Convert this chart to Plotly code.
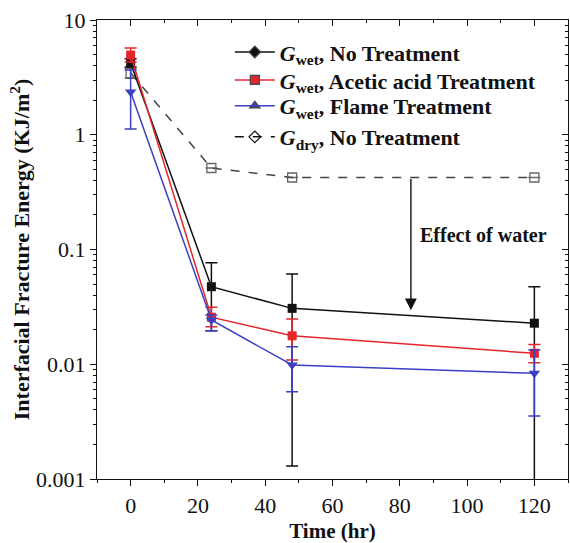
import math
import plotly.graph_objects as go

# Time points (hr)
time_hr = [0, 24, 48, 120]

# Wet interfacial fracture energy (KJ/m^2) with error bar limits
wet_none = [4.2, 0.0474, 0.0307, 0.0228]
wet_none_hi = [4.6, 0.0767, 0.0612, 0.0474]
wet_none_lo = [3.9, 0.0196, 0.0013, 0.0005]

wet_acetic = [4.95, 0.0257, 0.0177, 0.01246]
wet_acetic_hi = [5.7, 0.0314, 0.0248, 0.0149]
wet_acetic_lo = [4.3, 0.0212, 0.0109, 0.0103]

wet_flame = [2.36, 0.0243, 0.00985, 0.00834]
wet_flame_hi = [3.66, 0.0269, 0.01422, 0.0133]
wet_flame_lo = [1.12, 0.0196, 0.00577, 0.00354]

# Dry interfacial fracture energy, no treatment
dry_none = [3.45, 0.513, 0.424, 0.424]
dry_none_hi = [3.8, 0.513, 0.424, 0.424]
dry_none_lo = [3.1, 0.513, 0.424, 0.424]

legend_names = [
    "<i>G</i><sub>wet</sub>, No Treatment",
    "<i>G</i><sub>wet</sub>, Acetic acid Treatment",
    "<i>G</i><sub>wet</sub>, Flame Treatment",
    "<i>G</i><sub>dry</sub>, No Treatment",
]

# "Effect of water" arrow: from the dry level down to the wet level
arrow_time = 83.3
arrow_from = 0.424
arrow_to = 0.0295
label_pos = (85.5, 0.134)

BLACK = "#111111"
RED = "#e3262a"
BLUE = "#3b3fc2"
GREY = "#444444"
FONT = "Liberation Serif"


def err(vals, hi, lo):
    return dict(
        type="data", symmetric=False,
        array=[h - v for h, v in zip(hi, vals)],
        arrayminus=[v - l for v, l in zip(vals, lo)],
        thickness=1.5, width=6,
    )


fig = go.Figure()

# dry series
fig.add_trace(go.Scatter(
    x=time_hr, y=dry_none, mode="lines+markers", showlegend=False,
    line=dict(color=GREY, width=1.5, dash="dash"),
    marker=dict(symbol="square-open", size=9, color="#666666", line=dict(width=1.3)),
    error_y=dict(err(dry_none, dry_none_hi, dry_none_lo), color="#666666"),
))

# wet series
for vals, hi, lo, col, sym, sz in [
    (wet_none, wet_none_hi, wet_none_lo, BLACK, "square", 9),
    (wet_acetic, wet_acetic_hi, wet_acetic_lo, RED, "square", 9),
    (wet_flame, wet_flame_hi, wet_flame_lo, BLUE, "triangle-down", 10),
]:
    fig.add_trace(go.Scatter(
        x=time_hr, y=vals, mode="lines+markers", showlegend=False,
        line=dict(color=col, width=1.5),
        marker=dict(symbol=sym, size=sz, color=col),
        error_y=dict(err(vals, hi, lo), color=col),
    ))

# legend entries, one legend box per entry so each row can be placed
legend_ids = ["legend", "legend2", "legend3", "legend4"]
legend_rows = [0.930, 0.869, 0.813, 0.745]
for name, lid, col, sym, dash in [
    (legend_names[0], legend_ids[0], BLACK, "diamond", "solid"),
    (legend_names[1], legend_ids[1], RED, "square", "solid"),
    (legend_names[2], legend_ids[2], BLUE, "triangle-up", "solid"),
    (legend_names[3], legend_ids[3], BLACK, "diamond-open", "dash"),
]:
    fig.add_trace(go.Scatter(
        x=[None], y=[None], mode="lines+markers", name=name, legend=lid,
        line=dict(color=col, width=1.5, dash=dash),
        marker=dict(symbol=sym, size=9, color=col, line=dict(width=1.2)),
    ))

# mirror axes carrying inside ticks on top and right
fig.add_trace(go.Scatter(x=[None], y=[None], xaxis="x2", yaxis="y2",
                         showlegend=False, hoverinfo="skip"))

# annotations on a log axis take log10 coordinates
fig.add_annotation(
    x=arrow_time, y=math.log10(arrow_to),
    ax=arrow_time, ay=math.log10(arrow_from),
    xref="x", yref="y", axref="x", ayref="y", text="", showarrow=True,
    arrowhead=2, arrowsize=1.7, arrowwidth=1.4, arrowcolor=BLACK,
)
fig.add_annotation(
    x=label_pos[0], y=math.log10(label_pos[1]), xref="x", yref="y",
    text="<b>Effect of water</b>", showarrow=False,
    xanchor="left", yanchor="middle",
    font=dict(family=FONT, size=20, color=BLACK),
)

axis_common = dict(showgrid=False, zeroline=False, showline=True,
                   linecolor=BLACK, linewidth=1.2, tickcolor=BLACK,
                   automargin=False)
minor_y = [m * 10 ** e for e in range(-3, 1) for m in range(2, 10)]

legend_style = dict(
    x=0.282, xanchor="left", yanchor="middle",
    bgcolor="rgba(0,0,0,0)", borderwidth=0,
    font=dict(family=FONT, size=22, color=BLACK, weight="bold"),
    itemwidth=40,
)

fig.update_layout(
    width=570, height=543,
    margin=dict(l=97, r=2, t=20, b=64),
    paper_bgcolor="white", plot_bgcolor="white",
    font=dict(family=FONT, size=20, color=BLACK),
    showlegend=True,
    **{lid: dict(legend_style, y=ly) for lid, ly in zip(legend_ids, legend_rows)},
    xaxis=dict(
        **axis_common, range=[-10, 130], dtick=20, tick0=0,
        ticks="outside", ticklen=6,
        minor=dict(ticks="outside", ticklen=3, dtick=10, tick0=0),
        title=dict(text="<b>Time (hr)</b>", font=dict(size=21), standoff=6),
        tickfont=dict(size=22),
    ),
    yaxis=dict(
        **axis_common, type="log", range=[-3, 1],
        tickvals=[0.001, 0.01, 0.1, 1, 10],
        ticktext=["0.001", "0.01", "0.1", "1", "10"],
        ticks="outside", ticklen=6,
        minor=dict(ticks="outside", ticklen=3, tickvals=minor_y),
        title=dict(text="<b>Interfacial Fracture Energy (KJ/m<sup>2</sup>)</b>",
                   font=dict(size=22), standoff=0),
        tickfont=dict(size=22),
    ),
    xaxis2=dict(
        **axis_common, overlaying="x", side="top", range=[-10, 130],
        dtick=20, tick0=0, ticks="inside", ticklen=6, showticklabels=False,
        minor=dict(ticks="inside", ticklen=3, dtick=10, tick0=0),
    ),
    yaxis2=dict(
        **axis_common, overlaying="y", side="right", type="log", range=[-3, 1],
        tickvals=[0.001, 0.01, 0.1, 1, 10], ticks="inside", ticklen=6,
        showticklabels=False,
        minor=dict(ticks="inside", ticklen=3, tickvals=minor_y),
    ),
)

fig.write_html("out.html")
